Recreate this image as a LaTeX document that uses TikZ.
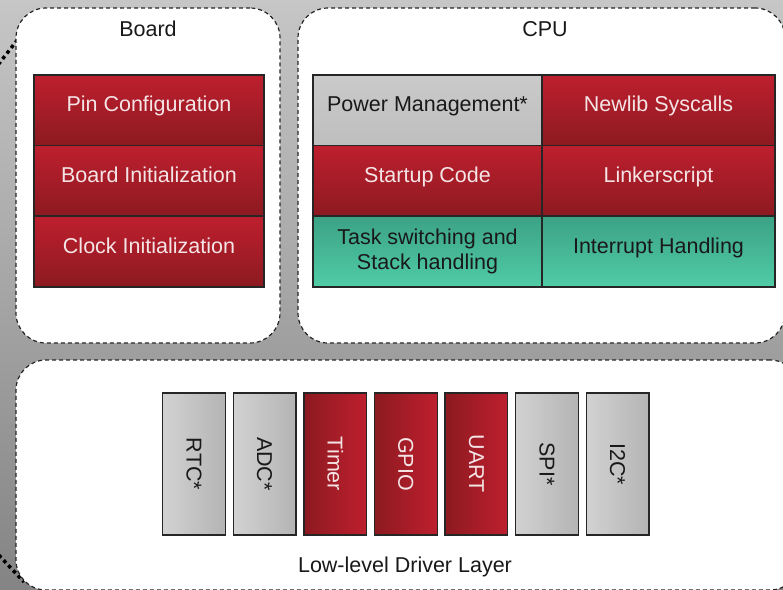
\documentclass[tikz,border=0pt]{standalone}
\usepackage{fontspec}
\setmainfont{Liberation Sans}
\definecolor{redtop}{RGB}{190,31,46}
\definecolor{redbot}{RGB}{140,26,32}
\definecolor{redtext}{RGB}{245,228,230}
\definecolor{greytop}{RGB}{202,202,202}
\definecolor{greybot}{RGB}{190,190,190}
\definecolor{greyl}{RGB}{210,210,210}
\definecolor{greyr}{RGB}{180,180,180}
\definecolor{tealtop}{RGB}{60,162,133}
\definecolor{tealbot}{RGB}{80,204,166}
\definecolor{bgtop}{RGB}{198,198,198}
\definecolor{bgbot}{RGB}{132,132,132}
\begin{document}
\begin{tikzpicture}[x=1pt,y=-1pt,
  panel/.style={draw=black!85, fill=white, line width=1.2pt, dash pattern=on 4pt off 3pt, rounded corners=30pt, inner sep=0pt, outer sep=0pt},
  box/.style={draw=black!85, line width=1.3pt, inner sep=0pt, outer sep=0pt, align=center, font=\fontsize{21.5}{25}\selectfont},
  raised/.style={text height=12pt, text depth=9pt},
  redbox/.style={box, raised, top color=redtop, bottom color=redbot, text=redtext},
  greybox/.style={box, raised, top color=greytop, bottom color=greybot, text=black!90},
  tealbox/.style={box, top color=tealtop, bottom color=tealbot, text=black!90},
  vred/.style={box, minimum width=62.7pt, minimum height=142pt, left color=redbot, right color=redtop, text=redtext},
  vgrey/.style={box, minimum width=62.7pt, minimum height=142pt, left color=greyl, right color=greyr, text=black!90},
  title/.style={font=\fontsize{21.5}{25}\selectfont, text=black!90, inner sep=0pt}
]
\clip (0,0) rectangle (783,589);
\shade[top color=bgtop, bottom color=bgbot] (0,0) rectangle (783,589);
% outer dotted frame fragments
\coordinate (d1a) at (-6,70);
\coordinate (d1b) at (22,34);
\coordinate (d2a) at (-6,550);
\coordinate (d2b) at (24,582);
\draw[line width=3.5pt, dash pattern=on 3.5pt off 3.5pt] (d1a) -- (d1b);
\draw[line width=3.5pt, dash pattern=on 3.5pt off 3.5pt] (d2a) -- (d2b);
% panels
\node[panel, minimum width=264pt, minimum height=335pt] (board) at (148,175.5) {};
\node[panel, minimum width=487pt, minimum height=335pt] (cpu) at (541.5,175.5) {};
\node[panel, minimum width=784pt, minimum height=230pt] (driver) at (408,475) {};
\node[title] (boardt) at (148,29) {Board};
\node[title] (cput) at (545,29) {CPU};
\node[title] (drivert) at (405,567) {Low-level Driver Layer};
% board boxes
\node[redbox, minimum width=230pt, minimum height=70.5pt] (pin) at (149,110.25) {Pin Configuration};
\node[redbox, minimum width=230pt, minimum height=70.5pt] (binit) at (149,180.75) {Board Initialization};
\node[redbox, minimum width=230pt, minimum height=71pt] (cinit) at (149,251.5) {Clock Initialization};
% cpu grid
\node[greybox, minimum width=229pt, minimum height=70.5pt] (pm) at (427.5,110.25) {Power Management*};
\node[redbox, minimum width=233pt, minimum height=70.5pt] (newlib) at (658.5,110.25) {Newlib Syscalls};
\node[redbox, minimum width=229pt, minimum height=70.5pt] (startup) at (427.5,180.75) {Startup Code};
\node[redbox, minimum width=233pt, minimum height=70.5pt] (linker) at (658.5,180.75) {Linkerscript};
\node[tealbox, minimum width=229pt, minimum height=71pt] (task) at (427.5,251.5) {Task switching and\\Stack handling};
\node[tealbox, raised, minimum width=233pt, minimum height=71pt] (irq) at (658.5,251.5) {Interrupt Handling};
% driver boxes
\node[vgrey] (rtc) at (194,464) {\rotatebox{-90}{RTC*}};
\node[vgrey] (adc) at (264.6,464) {\rotatebox{-90}{ADC*}};
\node[vred] (timer) at (335.2,464) {\rotatebox{-90}{Timer}};
\node[vred] (gpio) at (405.8,464) {\rotatebox{-90}{GPIO}};
\node[vred] (uart) at (476.4,464) {\rotatebox{-90}{UART}};
\node[vgrey] (spi) at (547,464) {\rotatebox{-90}{SPI*}};
\node[vgrey] (iic) at (617.6,464) {\rotatebox{-90}{I2C*}};
\end{tikzpicture}
\end{document}
